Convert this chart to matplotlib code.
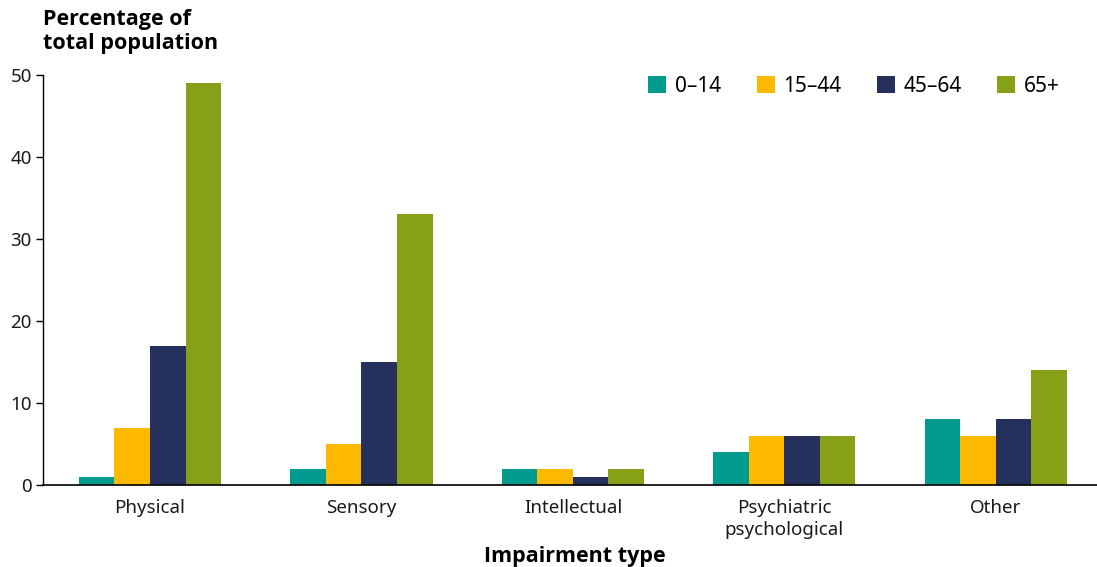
import matplotlib
matplotlib.use("Agg")
import matplotlib.pyplot as plt
import numpy as np

plt.rcParams['font.family'] = ['Noto Sans', 'DejaVu Sans']

categories = ["Physical", "Sensory", "Intellectual", "Psychiatric\npsychological", "Other"]
series_names = ["0–14", "15–44", "45–64", "65+"]
age_0_14 = [1, 2, 2, 4, 8]
age_15_44 = [7, 5, 2, 6, 6]
age_45_64 = [17, 15, 1, 6, 8]
age_65_plus = [49, 33, 2, 6, 14]
colors = ["#009B8F", "#FDB900", "#25305C", "#86A117"]
yticks = [0, 10, 20, 30, 40, 50]

W, H = 1097, 567
fig = plt.figure(figsize=(W / 100, H / 100), dpi=100)
ax = fig.add_axes([43 / W, 1 - 485 / H, (1097 - 43) / W, (485 - 75) / H])

x = np.arange(len(categories))
bw = 0.168
all_series = [age_0_14, age_15_44, age_45_64, age_65_plus]
for i, (vals, name, c) in enumerate(zip(all_series, series_names, colors)):
    ax.bar(x + (i - 1.5) * bw, vals, width=bw, color=c, label=name, edgecolor='none')

ax.set_xlim(-0.506, 4.478)
ax.set_ylim(0, 50)
ax.set_yticks(yticks)
ax.set_xticks(x)
ax.set_xticklabels(categories, fontsize=13.5, color='#1a1a1a', linespacing=1.3)
ax.tick_params(axis='x', length=0, pad=10)
ax.tick_params(axis='y', length=5, width=1, labelsize=13.5, labelcolor='#1a1a1a', pad=3)
for s in ['top', 'right']:
    ax.spines[s].set_visible(False)
ax.spines['left'].set_linewidth(1)
ax.spines['bottom'].set_linewidth(1.2)

ax.set_xlabel("Impairment type", fontsize=15.5, fontweight='bold', family=['Open Sans', 'DejaVu Sans'],
              labelpad=5)
ax.xaxis.label.set_x((574.5 - 43) / (1097 - 43))

fig.text(43 / W, 1 - 9 / H, "Percentage of\ntotal population", fontsize=15.5, fontweight='bold',
         family=['Open Sans', 'DejaVu Sans'], ha='left', va='top', linespacing=1.2)

leg = ax.legend(loc='upper right', bbox_to_anchor=(1060 / W, 1 - 76 / H), bbox_transform=fig.transFigure,
                ncol=4, frameon=False, fontsize=15, handlelength=0.87, handleheight=0.87,
                handletextpad=0.43, columnspacing=1.68, borderaxespad=0, borderpad=0)

fig.savefig("out.png", dpi=100)
